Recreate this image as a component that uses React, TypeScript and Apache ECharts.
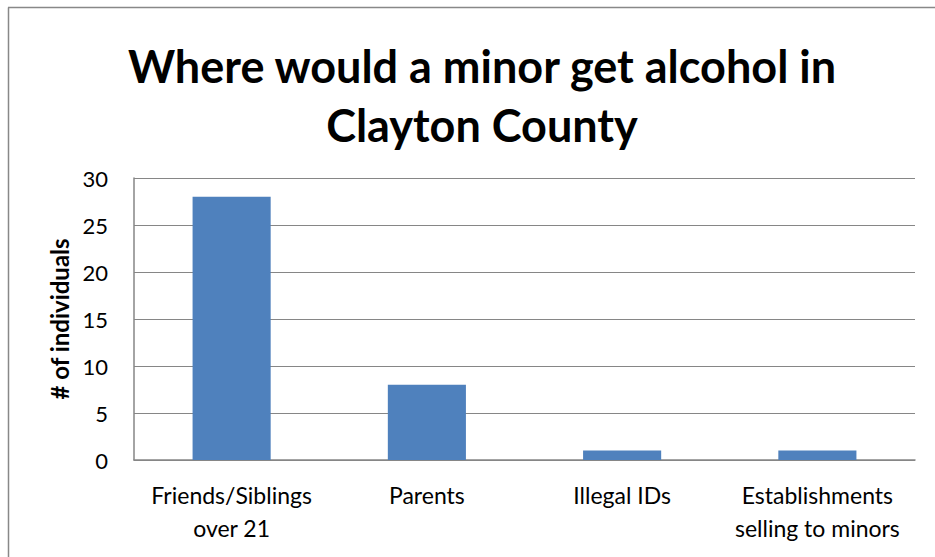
import React, { useEffect, useRef } from "react";
import * as echarts from "echarts";

const categories = ["Friends/Siblings\nover 21", "Parents", "Illegal IDs", "Establishments\nselling to minors"];
const values = [28, 8, 1, 1];
const titleText = "Where would a minor get alcohol in\nClayton County";
const yAxisName = "# of individuals";

export default function App() {
  const ref = useRef<HTMLDivElement>(null);
  useEffect(() => {
    if (!ref.current) return;
    const chart = echarts.init(ref.current, null, { renderer: "svg" });
    const font = "Lato, 'Open Sans', sans-serif";
    chart.setOption({
      animation: false,
      backgroundColor: "#ffffff",
      title: {
        text: titleText,
        left: 477,
        top: 31,
        textAlign: "center",
        textStyle: { fontFamily: font, fontWeight: "bold", fontSize: 45, lineHeight: 59, color: "#000" },
      },
      graphic: [
        { type: "line", shape: { x1: 8.5, y1: 7.5, x2: 8.5, y2: 557 }, style: { stroke: "#888", lineWidth: 1.5 } },
        { type: "line", shape: { x1: 8, y1: 7.5, x2: 935, y2: 7.5 }, style: { stroke: "#888", lineWidth: 1.5 } },
      ],
      grid: { left: 134, right: 20, top: 178, bottom: 97, containLabel: false },
      xAxis: {
        type: "category",
        data: categories,
        axisLine: { show: true, lineStyle: { color: "#868686", width: 1.5 } },
        axisTick: { show: false },
        axisLabel: { color: "#000", fontFamily: font, fontSize: 23, lineHeight: 33, margin: 18, interval: 0 },
      },
      yAxis: {
        type: "value",
        min: 0,
        max: 30,
        interval: 5,
        name: yAxisName,
        nameLocation: "middle",
        nameGap: 61,
        nameRotate: 90,
        nameTextStyle: { color: "#000", fontFamily: font, fontWeight: "bold", fontSize: 24 },
        axisLine: { show: true, lineStyle: { color: "#868686", width: 1.5 } },
        axisTick: { show: false },
        splitLine: { show: true, lineStyle: { color: "#868686", width: 1.2 } },
        axisLabel: { color: "#000", fontFamily: font, fontSize: 22, margin: 26 },
      },
      series: [
        {
          type: "bar",
          data: values,
          barWidth: "40%",
          itemStyle: { color: "#4F81BD" },
        },
      ],
    });
    return () => chart.dispose();
  }, []);
  return <div ref={ref} style={{ position: "fixed", left: 0, top: 0, width: 935, height: 557 }} />;
}
